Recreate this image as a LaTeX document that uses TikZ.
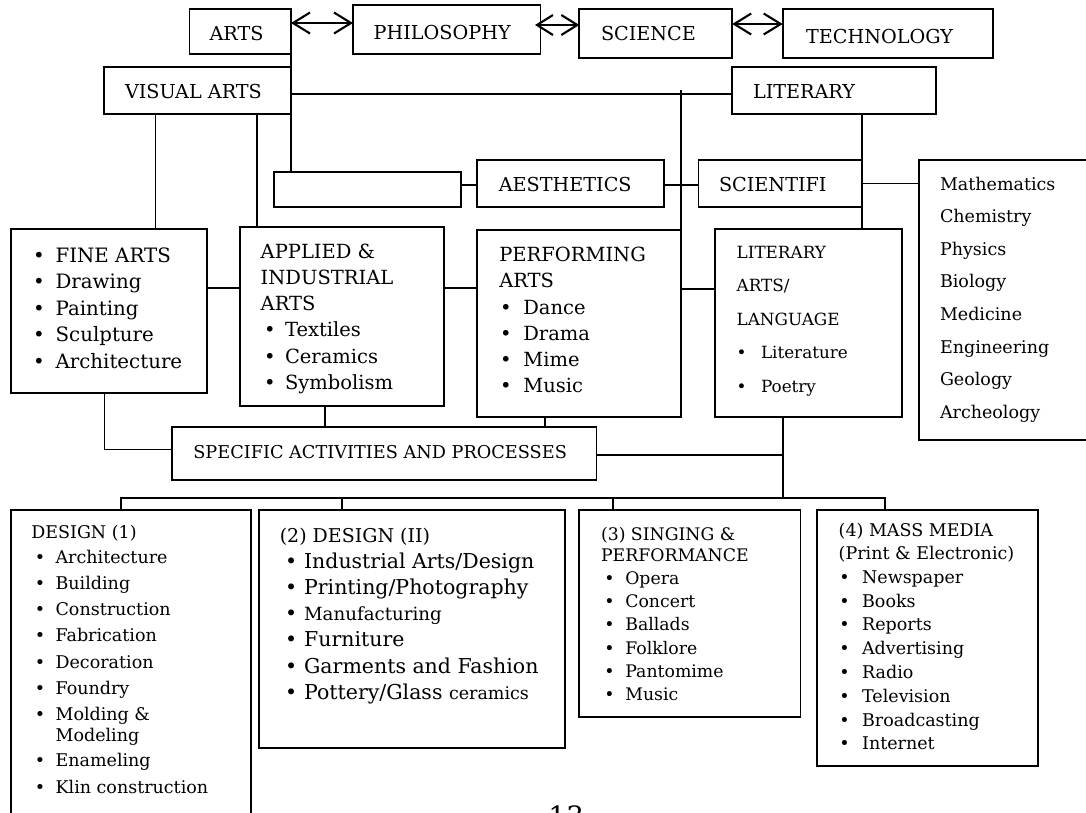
\documentclass[tikz,border=0pt]{standalone}
\usepackage{fontspec}
\setmainfont{DejaVu Serif}
\usetikzlibrary{fit,arrows.meta}
\newcommand\fs[1]{\fontsize{#1}{#1}\selectfont}
\tikzset{
  box/.style={draw, rectangle, line width=1.7pt, inner sep=0pt, outer sep=0pt},
  ln/.style={line width=1.6pt},
  biarr/.style={line width=2.1pt, {Straight Barb[length=17pt,width=21pt]}-{Straight Barb[length=17pt,width=21pt]}},
  biarrs/.style={line width=2.1pt, {Straight Barb[length=16pt,width=20pt]}-{Straight Barb[length=16pt,width=20pt]}},
  lbl/.style={anchor=base west, inner sep=0pt, outer sep=0pt},
}
\newcommand\itm[5]{\node[lbl] (#1b) at (#2,#4) {\textbullet}; \node[lbl] (#1) at (#3,#4) {#5};}
\newcommand\txt[4]{\node[lbl] (#1) at (#2,#3) {#4};}
\begin{document}
\begin{tikzpicture}[x=1pt,y=-1pt]
\useasboundingbox (0,0) rectangle (1086,812);
% ---------- boxes ----------
\node[box, fit={(189.4,9) (291,54)}] (arts) {};
\node[box, fit={(353,5) (540.5,54)}] (phil) {};
\node[box, fit={(579.3,9) (732.2,58)}] (scie) {};
\node[box, fit={(782.7,9) (993.3,58)}] (tech) {};
\node[box, fit={(104,67) (291,114)}] (va) {};
\node[box, fit={(732.2,67) (935.9,114)}] (lit) {};
\node[box, fit={(274,172) (461,207)}] (emp) {};
\node[box, fit={(477,160) (664.3,207)}] (aes) {};
\node[box, fit={(698.4,160) (862,207)}] (sci) {};
\node[box, fit={(919,160) (1100,440)}] (slist) {};
\node[box, fit={(11,229) (207,393)}] (fine) {};
\node[box, fit={(240,227) (444,406)}] (appl) {};
\node[box, fit={(477,230) (681,417)}] (perf) {};
\node[box, fit={(714.8,229) (902,417)}] (lita) {};
\node[box, fit={(172,427) (596.4,480)}] (spec) {};
\node[box, fit={(11,510) (251,840)}] (d1) {};
\node[box, fit={(259,510) (565,748)}] (d2) {};
\node[box, fit={(579,510) (800.4,717)}] (sing) {};
\node[box, fit={(816.8,510) (1038,766)}] (mass) {};
% ---------- helper coordinates ----------
\coordinate (yA1) at (0,23);
\coordinate (yA2) at (0,25);
\coordinate (yA3) at (0,24);
\coordinate (y94) at (0,94);
\coordinate (y90) at (0,90);
\coordinate (y185) at (0,185);
\coordinate (y288) at (0,288);
\coordinate (y289) at (0,289);
\coordinate (y449) at (0,449.5);
\coordinate (x155) at (155.4,0);
\coordinate (x257) at (257.2,0);
\coordinate (x325) at (325,0);
\coordinate (x545) at (545.2,0);
\coordinate (x104) at (104.3,0);
\coordinate (xPS) at (535,0);
\coordinate (jL) at (783,455);
\coordinate (bus) at (0,498);
\coordinate (xb1) at (121,0);
\coordinate (xb2) at (341.7,0);
\coordinate (xb3) at (613,0);
\coordinate (xb4) at (884.7,0);
% ---------- arrows ----------
\draw[biarr] (arts.east |- yA1) -- (phil.west |- yA1);
\draw[biarrs] (xPS |- yA2) -- (scie.west |- yA2);
\draw[biarr] (scie.east |- yA3) -- (tech.west |- yA3);
% ---------- connectors ----------
\draw[ln] (arts.south east) -- (arts.south east |- emp.north);
\draw[ln] (va.east |- y94) -- (lit.west |- y94);
\draw[ln] (perf.north east) -- (perf.north east |- y90);
\draw[ln] (va.south -| x155) -- (fine.north -| x155);
\draw[ln] (va.south -| x257) -- (appl.north -| x257);
\draw[ln] (emp.east |- y185) -- (aes.west |- y185);
\draw[ln] (aes.east |- y185) -- (sci.west |- y185);
\draw[ln] (lit.south -| sci.east) -- (lita.north -| sci.east);
\draw[ln] (sci.east) -- (slist.west |- sci.east);
\draw[ln] (fine.east |- y288) -- (appl.west |- y288);
\draw[ln] (appl.east |- y288) -- (perf.west |- y288);
\draw[ln] (perf.east |- y289) -- (lita.west |- y289);
\draw[ln] (appl.south -| x325) -- (spec.north -| x325);
\draw[ln] (perf.south -| x545) -- (spec.north -| x545);
\draw[ln] (fine.south -| x104) |- (spec.west |- y449);
\draw[ln] (spec.east |- jL) -- (jL);
\draw[ln] (lita.south -| jL) -- (jL |- bus);
\draw[ln] (d1.north -| xb1) -- (xb1 |- bus) -- (xb4 |- bus) -- (mass.north -| xb4);
\draw[ln] (xb2 |- bus) -- (d2.north -| xb2);
\draw[ln] (xb3 |- bus) -- (sing.north -| xb3);
% ---------- top labels ----------
\begin{scope}[nodes={font=\fs{19.2}}]
\txt{artsT}{209.6}{40}{ARTS}
\txt{philT}{373.7}{39.3}{PHILOSOPHY}
\txt{scieT}{601}{40}{SCIENCE}
\txt{techT}{806}{43.3}{TECHNOLOGY}
\txt{vaT}{125}{98.3}{VISUAL ARTS}
\txt{litT}{753}{98.3}{LITERARY}
\txt{aesT}{498.8}{191.7}{AESTHETICS}
\txt{sciT}{719}{191.7}{SCIENTIFI}
\end{scope}
\begin{scope}[nodes={font=\fs{17.7}}]
\txt{specT}{193.3}{458.3}{SPECIFIC ACTIVITIES AND PROCESSES}
\end{scope}
% ---------- science list ----------
\begin{scope}[nodes={font=\fs{17.5}}]
\txt{s1}{940}{190}{Mathematics}
\txt{s2}{940}{222.6}{Chemistry}
\txt{s3}{940}{255.2}{Physics}
\txt{s4}{940}{287.8}{Biology}
\txt{s5}{940}{320.4}{Medicine}
\txt{s6}{940}{353}{Engineering}
\txt{s7}{940}{385.6}{Geology}
\txt{s8}{940}{418.2}{Archeology}
\end{scope}
% ---------- fine arts ----------
\begin{scope}[nodes={font=\fs{19.8}}]
\itm{f1}{33}{55.6}{262.3}{FINE ARTS}
\itm{f2}{33}{55.6}{288.8}{Drawing}
\itm{f3}{33}{55.6}{315.3}{Painting}
\itm{f4}{33}{55.6}{341.8}{Sculpture}
\itm{f5}{33}{55.6}{368.3}{Architecture}
\end{scope}
% ---------- applied ----------
\begin{scope}[nodes={font=\fs{19.5}}]
\txt{a1}{260.7}{258.5}{APPLIED \&}
\txt{a2}{260.7}{284.7}{INDUSTRIAL}
\txt{a3}{260.7}{310.8}{ARTS}
\itm{a4}{264}{285}{336.9}{Textiles}
\itm{a5}{264}{285}{363}{Ceramics}
\itm{a6}{264}{285}{389}{Symbolism}
\end{scope}
% ---------- performing ----------
\begin{scope}[nodes={font=\fs{19.5}}]
\txt{p1}{499.3}{261.7}{PERFORMING}
\txt{p2}{499.3}{287.9}{ARTS}
\itm{p3}{500}{523.3}{314}{Dance}
\itm{p4}{500}{523.3}{340.2}{Drama}
\itm{p5}{500}{523.3}{366.4}{Mime}
\itm{p6}{500}{523.3}{392.6}{Music}
\end{scope}
% ---------- literary arts ----------
\begin{scope}[nodes={font=\fs{16.8}}]
\txt{l1}{736.7}{258.3}{LITERARY}
\txt{l2}{736.7}{291.8}{ARTS/}
\txt{l3}{736.7}{325.3}{LANGUAGE}
\itm{l4}{736.7}{761}{358.8}{Literature}
\itm{l5}{736.7}{761}{392.3}{Poetry}
\end{scope}
% ---------- design 1 ----------
\begin{scope}[nodes={font=\fs{17.5}}]
\txt{e0}{31.3}{538.3}{DESIGN (1)}
\itm{e1}{34.8}{55.6}{563.3}{Architecture}
\itm{e2}{34.8}{55.6}{589.5}{Building}
\itm{e3}{34.8}{55.6}{615.7}{Construction}
\itm{e4}{34.8}{55.6}{641.9}{Fabrication}
\itm{e5}{34.8}{55.6}{668.1}{Decoration}
\itm{e6}{34.8}{55.6}{694.3}{Foundry}
\itm{e7}{34.8}{55.6}{720.5}{Molding \&}
\txt{e7b}{55.6}{741.2}{Modeling}
\itm{e8}{34.8}{55.6}{766.7}{Enameling}
\itm{e9}{34.8}{55.6}{793}{Klin construction}
\end{scope}
% ---------- design 2 ----------
\begin{scope}[nodes={font=\fs{20.5}}]
\txt{g0}{279.8}{542.7}{\fs{19}(2) DESIGN (II)}
\itm{g1}{285}{304.1}{568.3}{Industrial Arts/Design}
\itm{g2}{285}{304.1}{594.5}{Printing/Photography}
\itm{g3}{285}{304.1}{620.7}{\fs{18.2}Manufacturing}
\itm{g4}{285}{304.1}{646.9}{Furniture}
\itm{g5}{285}{304.1}{673.1}{Garments and Fashion}
\itm{g6}{285}{304.1}{699.3}{Pottery/Glass {\fs{17.5}ceramics}}
\end{scope}
% ---------- singing ----------
\begin{scope}[nodes={font=\fs{17.3}}]
\txt{h0}{601}{540}{(3) SINGING \&}
\txt{h0b}{601}{561.2}{PERFORMANCE}
\itm{h1}{604.4}{625.3}{584.4}{Opera}
\itm{h2}{604.4}{625.3}{607.6}{Concert}
\itm{h3}{604.4}{625.3}{630.8}{Ballads}
\itm{h4}{604.4}{625.3}{654}{Folklore}
\itm{h5}{604.4}{625.3}{677.2}{Pantomime}
\itm{h6}{604.4}{625.3}{700.4}{Music}
\end{scope}
% ---------- mass media ----------
\begin{scope}[nodes={font=\fs{17.5}}]
\txt{m0}{838.7}{536}{(4) MASS MEDIA}
\txt{m0b}{838.7}{559.3}{(Print \& Electronic)}
\itm{m1}{839.4}{862.1}{583.3}{Newspaper}
\itm{m2}{839.4}{862.1}{607.1}{Books}
\itm{m3}{839.4}{862.1}{630.9}{Reports}
\itm{m4}{839.4}{862.1}{654.7}{Advertising}
\itm{m5}{839.4}{862.1}{678.5}{Radio}
\itm{m6}{839.4}{862.1}{702.3}{Television}
\itm{m7}{839.4}{862.1}{726.1}{Broadcasting}
\itm{m8}{839.4}{862.1}{749.9}{Internet}
\end{scope}
% ---------- page number ----------
\node[lbl, font=\fs{28}] (pg) at (548.3,826) {13};
\end{tikzpicture}
\end{document}
